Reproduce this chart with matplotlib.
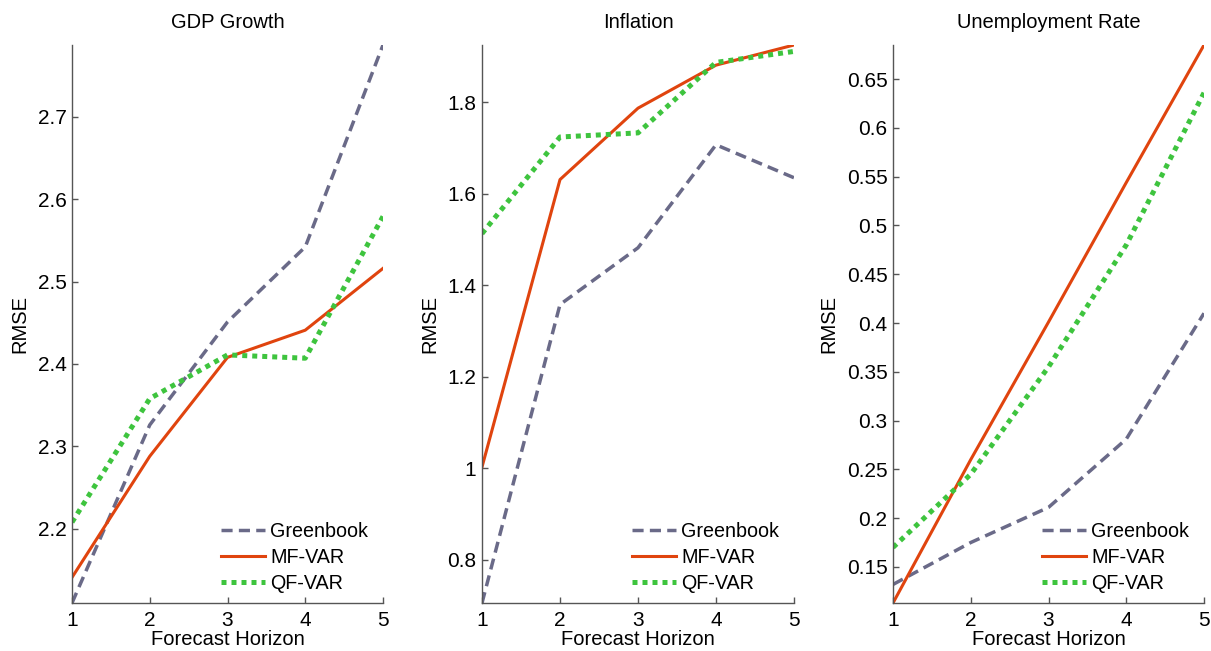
import matplotlib
matplotlib.use("Agg")
import matplotlib.pyplot as plt
from matplotlib.ticker import FuncFormatter

plt.rcParams['font.family'] = ['Liberation Sans', 'DejaVu Sans']

# ================= Data =================
horizon = [1, 2, 3, 4, 5]
series_names = ['Greenbook', 'MF-VAR', 'QF-VAR']
panel_titles = ['GDP Growth', 'Inflation', 'Unemployment Rate']

gdp_greenbook = [2.110, 2.326, 2.451, 2.542, 2.787]
gdp_mfvar = [2.141, 2.288, 2.408, 2.441, 2.516]
gdp_qfvar = [2.208, 2.358, 2.411, 2.407, 2.579]

inf_greenbook = [0.706, 1.358, 1.482, 1.707, 1.635]
inf_mfvar = [1.003, 1.631, 1.787, 1.881, 1.925]
inf_qfvar = [1.513, 1.724, 1.733, 1.887, 1.911]

unemp_greenbook = [0.132, 0.175, 0.211, 0.281, 0.410]
unemp_mfvar = [0.113, 0.260, 0.401, 0.544, 0.685]
unemp_qfvar = [0.170, 0.245, 0.355, 0.480, 0.636]

gdp_yticks = [2.2, 2.3, 2.4, 2.5, 2.6, 2.7]
inf_yticks = [0.8, 1.0, 1.2, 1.4, 1.6, 1.8]
unemp_yticks = [0.15, 0.2, 0.25, 0.3, 0.35, 0.4, 0.45, 0.5, 0.55, 0.6, 0.65]

# ================= Style =================
COLORS = ['#6a6a88', '#e0440e', '#3ec43e']
STYLES = [dict(linestyle=(0, (3.2, 1.8)), linewidth=2.5),
          dict(linestyle='-', linewidth=2.2),
          dict(linestyle=(0, (1, 1)), linewidth=3.6)]
AXIS_COLOR = '#555555'

panels = [
    (panel_titles[0], [gdp_greenbook, gdp_mfvar, gdp_qfvar], gdp_yticks),
    (panel_titles[1], [inf_greenbook, inf_mfvar, inf_qfvar], inf_yticks),
    (panel_titles[2], [unemp_greenbook, unemp_mfvar, unemp_qfvar], unemp_yticks),
]

W, H = 1211, 651
fig = plt.figure(figsize=(W / 100, H / 100), dpi=100)

# pixel boxes (left, right) for each axes; shared top/bottom
x_boxes = [(72, 383), (482, 794), (893, 1204)]
top_px, bottom_px = 45, 603

for i, (title, data, yticks) in enumerate(panels):
    l, r = x_boxes[i]
    ax = fig.add_axes([l / W, (H - bottom_px) / H, (r - l) / W, (bottom_px - top_px) / H])
    for vals, name, c, st in zip(data, series_names, COLORS, STYLES):
        ax.plot(horizon, vals, color=c, label=name, **st)

    # tight limits like MATLAB 'axis tight'
    lo = min(min(v) for v in data)
    hi = max(max(v) for v in data)
    ax.set_ylim(lo, hi)
    ax.set_xlim(1, 5)
    ax.set_xticks(horizon)
    ax.set_yticks(yticks)
    ax.yaxis.set_major_formatter(FuncFormatter(lambda v, p: f"{v:g}"))

    for side in ['top', 'right']:
        ax.spines[side].set_visible(False)
    for side in ['left', 'bottom']:
        ax.spines[side].set_color(AXIS_COLOR)
        ax.spines[side].set_linewidth(1.0)
    ax.tick_params(direction='in', length=4, width=1, color=AXIS_COLOR,
                   labelsize=15, labelcolor='black')
    ax.tick_params(axis='x', pad=6)
    ax.tick_params(axis='y', pad=4)

    ax.set_title(title, fontsize=14.5, pad=12)
    ax.set_xlabel('Forecast Horizon', fontsize=14.5, labelpad=0)
    ax.set_ylabel('RMSE', fontsize=14.5, labelpad=6)

    ax.legend(loc='lower right', bbox_to_anchor=(0.977, 0.004), frameon=False,
              fontsize=14.2, handlelength=2.25, handletextpad=0.25,
              labelspacing=0.35, borderaxespad=0.0)

fig.savefig('out.png', dpi=100)
